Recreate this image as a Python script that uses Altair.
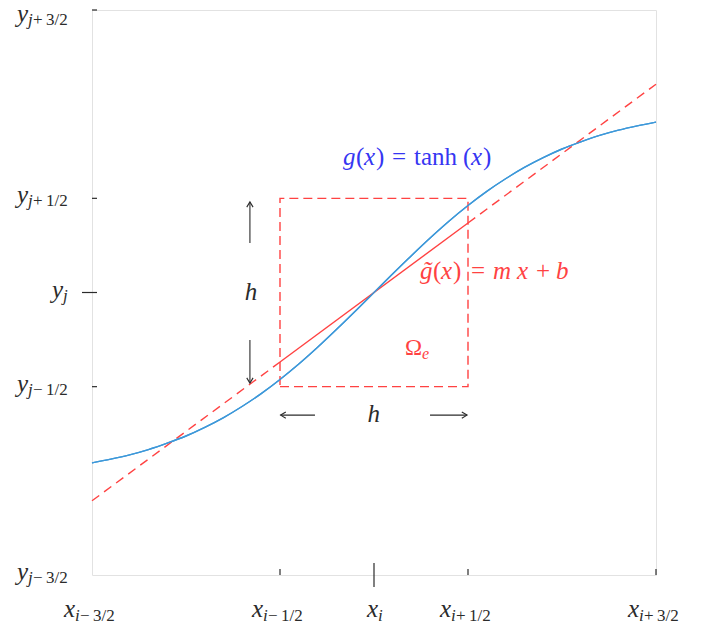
import altair as alt
import pandas as pd

FONT = "Liberation Serif, DejaVu Serif, serif"
RED = "#ff4242"
BLUE_LINE = "#3d98d9"
BLUE_TEXT = "#3636f2"
INK = "#2b2b2b"
GRID = "#e2e2e2"

# ---------------- data ----------------
curve_x = [-1.5, -1.4, -1.3, -1.2, -1.1, -1.0, -0.9, -0.8, -0.7, -0.6, -0.5,
           -0.4, -0.3, -0.2, -0.1, 0.0, 0.1, 0.2, 0.3, 0.4, 0.5, 0.6, 0.7,
           0.8, 0.9, 1.0, 1.1, 1.2, 1.3, 1.4, 1.5]
curve_y = [-0.905, -0.885, -0.862, -0.834, -0.800, -0.762, -0.716, -0.664,
           -0.604, -0.537, -0.462, -0.380, -0.291, -0.197, -0.100, 0.0,
           0.100, 0.197, 0.291, 0.380, 0.462, 0.537, 0.604, 0.664, 0.716,
           0.762, 0.800, 0.834, 0.862, 0.885, 0.905]

fit_x = [-1.5, -0.5, -0.5, 0.5, 0.5, 1.5]
fit_y = [-1.106, -0.369, -0.369, 0.369, 0.369, 1.106]
fit_part = ["left", "left", "cell", "cell", "right", "right"]

cell_x = [-0.5, 0.5, 0.5, -0.5, -0.5]
cell_y = [-0.5, -0.5, 0.5, 0.5, -0.5]

tick_pos = [-1.5, -0.5, 0.0, 0.5, 1.5]
x_sub_rest = ["−3/2", "−1/2", "", "+1/2", "+3/2"]
y_sub_rest = ["−3/2", "−1/2", "", "+1/2", "+3/2"]

# ---------------- layout ----------------
W, H = 564, 565
UNIT = W / 3.0
xs = alt.Scale(domain=[-1.5, 1.5], nice=False, zero=False)
ys = alt.Scale(domain=[-1.5, 1.5], nice=False, zero=False)


def thin(s):
    return s.replace("−", "\u2009−\u2009").replace("+", "\u2009+\u2009")


curve_df = pd.DataFrame({"x": curve_x, "y": curve_y})
fit_df = pd.DataFrame({"x": fit_x, "y": fit_y, "part": fit_part})
cell_df = pd.DataFrame({"x": cell_x, "y": cell_y, "i": list(range(len(cell_x)))})
tick_df = pd.DataFrame({"v": tick_pos})

ax_common = dict(grid=True, gridColor=GRID, gridWidth=1, labels=False,
                 ticks=False, domain=True, domainColor=INK, domainWidth=1.2,
                 title=None)

X = lambda f: alt.X(f, scale=xs, axis=None)
Y = lambda f: alt.Y(f, scale=ys, axis=None)

curve = alt.Chart(curve_df).mark_line(
    color=BLUE_LINE, strokeWidth=1.4, interpolate="monotone"
).encode(
    x=alt.X("x:Q", scale=xs, axis=alt.Axis(values=[-0.5, 0.5], **ax_common)),
    y=alt.Y("y:Q", scale=ys, axis=alt.Axis(values=[-0.5, 0.5], **ax_common)),
)

cell = alt.Chart(cell_df).mark_line(
    color=RED, strokeWidth=1.4, strokeDash=[9, 5]
).encode(x=X("x:Q"), y=Y("y:Q"), order="i:Q")

fit_dash = alt.Chart(fit_df).transform_filter("datum.part != 'cell'").mark_line(
    color=RED, strokeWidth=1.4, strokeDash=[9, 6]
).encode(x=X("x:Q"), y=Y("y:Q"), detail="part:N")

fit_solid = alt.Chart(fit_df).transform_filter("datum.part == 'cell'").mark_line(
    color=RED, strokeWidth=1.4
).encode(x=X("x:Q"), y=Y("y:Q"))

# ticks
xt_small = alt.Chart(tick_df).transform_filter("datum.v != 0 && datum.v != -1.5").mark_rule(
    color=INK, strokeWidth=1.2, y2Offset=-6
).encode(x=X("v:Q"), y=alt.YDatum(-1.5, scale=ys, axis=None), y2=alt.Y2Datum(-1.5))
xt_mid = alt.Chart(tick_df).transform_filter("datum.v == 0").mark_rule(
    color=INK, strokeWidth=1.2, yOffset=12, y2Offset=-12
).encode(x=X("v:Q"), y=alt.YDatum(-1.5, scale=ys, axis=None), y2=alt.Y2Datum(-1.5))
yt_small = alt.Chart(tick_df).transform_filter("datum.v != 0 && datum.v != -1.5").mark_rule(
    color=INK, strokeWidth=1.2, x2Offset=5
).encode(y=Y("v:Q"), x=alt.XDatum(-1.5, scale=xs, axis=None), x2=alt.X2Datum(-1.5))
yt_mid = alt.Chart(tick_df).transform_filter("datum.v == 0").mark_rule(
    color=INK, strokeWidth=1.2, xOffset=-10, x2Offset=5
).encode(y=Y("v:Q"), x=alt.XDatum(-1.5, scale=xs, axis=None), x2=alt.X2Datum(-1.5))

# tick labels
xlab = pd.DataFrame({"v": tick_pos, "main": ["x"] * 5, "s1": ["i"] * 5,
                     "s2": [thin(s) for s in x_sub_rest]})
ylab = pd.DataFrame({"v": tick_pos, "main": ["y"] * 5, "s1": ["j"] * 5,
                     "s2": [thin(s) for s in y_sub_rest]})

MAIN_FS, SUB_FS = 25, 17


def xlabels(filt, dx):
    enc = dict(x=X("v:Q"), y=alt.YDatum(-1.5, scale=ys, axis=None))
    base = alt.Chart(xlab).transform_filter(filt)
    m = base.mark_text(font=FONT, fontStyle="italic", fontSize=MAIN_FS, align="right",
                       baseline="alphabetic", dx=dx, dy=42, color=INK).encode(text="main:N", **enc)
    s1 = base.mark_text(font=FONT, fontStyle="italic", fontSize=SUB_FS, align="left",
                        baseline="alphabetic", dx=dx, dy=46, color=INK).encode(text="s1:N", **enc)
    s2 = base.mark_text(font=FONT, fontSize=SUB_FS, align="left",
                        baseline="alphabetic", dx=dx + 5, dy=46, color=INK).encode(text="s2:N", **enc)
    return [m, s1, s2]


def ylabels(filt, dx, dy):
    enc = dict(y=Y("v:Q"), x=alt.XDatum(-1.5, scale=xs, axis=None))
    base = alt.Chart(ylab).transform_filter(filt)
    m = base.mark_text(font=FONT, fontStyle="italic", fontSize=MAIN_FS, align="right",
                       baseline="alphabetic", dx=dx, dy=dy, color=INK).encode(text="main:N", **enc)
    s1 = base.mark_text(font=FONT, fontStyle="italic", fontSize=SUB_FS, align="left",
                        baseline="alphabetic", dx=dx, dy=dy + 3, color=INK).encode(text="s1:N", **enc)
    s2 = base.mark_text(font=FONT, fontSize=SUB_FS, align="left",
                        baseline="alphabetic", dx=dx + 5, dy=dy + 3, color=INK).encode(text="s2:N", **enc)
    return [m, s1, s2]


labels = (xlabels("datum.v != 0", -17) + xlabels("datum.v == 0", 4)
          + ylabels("datum.v != 0 && datum.v != 1.5", -64, 5)
          + ylabels("datum.v == 1.5", -64, 12)
          + ylabels("datum.v == 0", -29, 5))

# annotations: (anchor x, anchor y in data units, pieces [(text, italic, dx px, dy px, size)], colour)
F = 25
annotations = [
    (-0.165, 0.677, [("g", True, 0, 0, F), ("(", False, 13, 0, F), ("x", True, 21, 0, F),
                     (")", False, 33, 0, F), ("=", False, 49, 0, F), ("tanh", False, 71, 0, F),
                     ("(", False, 120, 0, F), ("x", True, 128, 0, F), (")", False, 140, 0, F)], BLUE_TEXT),
    (0.245, 0.072, [("g\u0303", True, 0, 0, F), ("(", False, 13, 0, F), ("x", True, 21, 0, F),
                    (")", False, 33, 0, F), ("=", False, 51, 0, F), ("m", True, 73, 0, F),
                    ("x", True, 97, 0, F), ("+", False, 116, 0, F), ("b", True, 136, 0, F)], RED),
    (0.165, -0.332, [("Ω", False, 0, 0, 23), ("e", True, 17, 4, 16)], RED),
    (-0.688, -0.040, [("h", True, 0, 0, F)], INK),
    (-0.034, -0.688, [("h", True, 0, 0, F)], INK),
]
rows = []
for ax_, ay_, pieces, col in annotations:
    for t, it, dx, dy, sz in pieces:
        rows.append({"t": t, "x": ax_ + dx / UNIT, "y": ay_ - dy / UNIT,
                     "it": it, "s": sz, "c": col})
ann_df = pd.DataFrame(rows)


def ann_layer(italic):
    return alt.Chart(ann_df).transform_filter(
        "datum.it" if italic else "!datum.it"
    ).mark_text(font=FONT, fontStyle="italic" if italic else "normal",
                align="left", baseline="alphabetic").encode(
        x=X("x:Q"), y=Y("y:Q"), text="t:N",
        color=alt.Color("c:N", scale=None), size=alt.Size("s:Q", scale=None))


# arrows for the h markers
arrow_df = pd.DataFrame({
    "x": [-0.660, -0.660, -0.314, 0.298],
    "y": [0.263, -0.252, -0.651, -0.651],
    "x2": [-0.660, -0.660, -0.497, 0.495],
    "y2": [0.481, -0.481, -0.651, -0.651],
    "ang": [270, 90, 180, 0],
})
shafts = alt.Chart(arrow_df).mark_rule(color=INK, strokeWidth=1.1).encode(
    x=X("x:Q"), y=Y("y:Q"), x2="x2:Q", y2="y2:Q")
heads = alt.Chart(arrow_df).mark_point(
    shape="M-1,-0.6L0,0L-1,0.6", filled=False, size=110, strokeWidth=1.1,
    color=INK, opacity=1
).encode(x=X("x2:Q"), y=Y("y2:Q"), angle=alt.Angle("ang:Q", scale=None))

chart = alt.layer(
    curve, cell, fit_dash, fit_solid, curve,
    xt_small, xt_mid, yt_small, yt_mid,
    shafts, heads, ann_layer(True), ann_layer(False), *labels
).properties(
    width=W, height=H,
    autosize=alt.AutoSizeParams(type="none"),
    padding={"left": 92, "top": 10, "right": 48, "bottom": 55},
    background="white",
).configure_view(stroke=GRID, strokeWidth=1)

chart.save("out.html", embed_options={"renderer": "svg", "actions": False})
